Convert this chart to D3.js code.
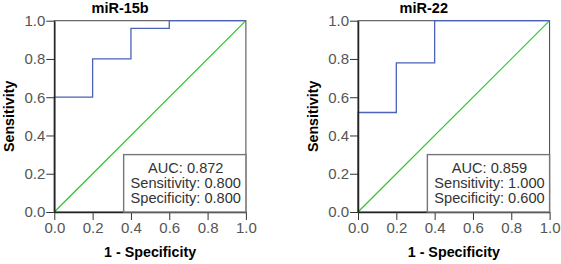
<!DOCTYPE html>
<html>
<head>
<meta charset="utf-8">
<script src="https://cdn.jsdelivr.net/npm/d3@7"></script>
<style>
  body { margin: 0; background: #fff; }
  text { font-family: "Liberation Sans", Arial, sans-serif; }
</style>
</head>
<body>
<svg id="chart" width="561" height="264"></svg>
<script>
// panel titles
const titles = ['miR-15b', 'miR-22'];

// ROC curve points (1 - specificity, sensitivity)
const roc15b_x = [0.0, 0.0, 0.2, 0.2, 0.4, 0.4, 0.6, 0.6, 1.0];
const roc15b_y = [0.0, 0.6, 0.6, 0.8, 0.8, 0.96, 0.96, 1.0, 1.0];
const roc22_x = [0.0, 0.0, 0.2, 0.2, 0.4, 0.4, 1.0];
const roc22_y = [0.0, 0.52, 0.52, 0.78, 0.78, 1.0, 1.0];

// summary statistics shown in the box
const stats15b = ['AUC: 0.872', 'Sensitivity: 0.800', 'Specificity: 0.800'];
const stats22 = ['AUC: 0.859', 'Sensitivity: 1.000', 'Specificity: 0.600'];

const ticks = [0.0, 0.2, 0.4, 0.6, 0.8, 1.0];

const svg = d3.select('#chart');

function drawPanel(left, title, xs, ys, stats) {
    const top = 20.7, bottom = 212, width = 191.6;
    const x = d3.scaleLinear().domain([0, 1]).range([left, left + width]);
    const y = d3.scaleLinear().domain([0, 1]).range([bottom, top]);
    const g = svg.append('g');

    // frame (top + right)
    g.append('rect')
        .attr('x', x(0)).attr('y', y(1))
        .attr('width', x(1) - x(0)).attr('height', y(0) - y(1))
        .attr('fill', 'none').attr('stroke', '#444').attr('stroke-width', 1);

    // diagonal reference
    g.append('line')
        .attr('x1', x(0)).attr('y1', y(0)).attr('x2', x(1)).attr('y2', y(1))
        .attr('stroke', '#2ec42e').attr('stroke-width', 1.2);

    // ROC curve
    const pts = xs.map((v, i) => [v, ys[i]]);
    g.append('path')
        .datum(pts)
        .attr('d', d3.line().x(d => x(d[0])).y(d => y(d[1])))
        .attr('fill', 'none').attr('stroke', '#4a62b8').attr('stroke-width', 1.3);

    // axes
    const xaxis = d3.axisBottom(x).tickValues(ticks).tickFormat(d3.format('.1f'))
        .tickSize(8).tickSizeOuter(0).tickPadding(2);
    const yaxis = d3.axisLeft(y).tickValues(ticks).tickFormat(d3.format('.1f'))
        .tickSize(8).tickSizeOuter(0).tickPadding(1);

    const gx = g.append('g').attr('transform', `translate(0, ${bottom})`).call(xaxis);
    const gy = g.append('g').attr('transform', `translate(${left}, 0)`).call(yaxis);
    [gx, gy].forEach(a => {
        a.selectAll('path').attr('stroke', '#222').attr('stroke-width', 1.5);
        a.selectAll('line').attr('stroke', '#333');
        a.selectAll('text').attr('font-size', 15).attr('fill', '#555')
            .style('font-family', '"Liberation Sans", Arial, sans-serif');
    });

    // stats box
    const bx0 = x(0.362), bx1 = x(1), by0 = y(0.3), by1 = y(0);
    g.append('rect')
        .attr('x', bx0).attr('y', by0)
        .attr('width', bx1 - bx0).attr('height', by1 - by0)
        .attr('fill', '#fff').attr('stroke', '#777').attr('stroke-width', 1.4);
    g.selectAll('.stat').data(stats).enter()
        .append('text')
        .attr('x', (bx0 + bx1) / 2 + 1)
        .attr('y', (d, i) => by0 + 18.5 + i * 15)
        .attr('text-anchor', 'middle')
        .attr('font-size', 14.6)
        .attr('fill', '#333')
        .text(d => d);

    // title
    g.append('text')
        .attr('x', x(0.5) - 30).attr('y', 13)
        .attr('text-anchor', 'middle')
        .attr('font-size', 14.5).attr('font-weight', 'bold')
        .text(title);

    // axis labels
    g.append('text')
        .attr('x', x(0.5)).attr('y', 257)
        .attr('text-anchor', 'middle')
        .attr('font-size', 14.3).attr('font-weight', 'bold')
        .text('1 - Specificity');
    g.append('text')
        .attr('transform', `translate(${left - 40}, ${(top + bottom) / 2}) rotate(-90)`)
        .attr('text-anchor', 'middle')
        .attr('font-size', 14.3).attr('font-weight', 'bold')
        .text('Sensitivity');
}

drawPanel(54.3, titles[0], roc15b_x, roc15b_y, stats15b);
drawPanel(358, titles[1], roc22_x, roc22_y, stats22);
</script>
</body>
</html>
